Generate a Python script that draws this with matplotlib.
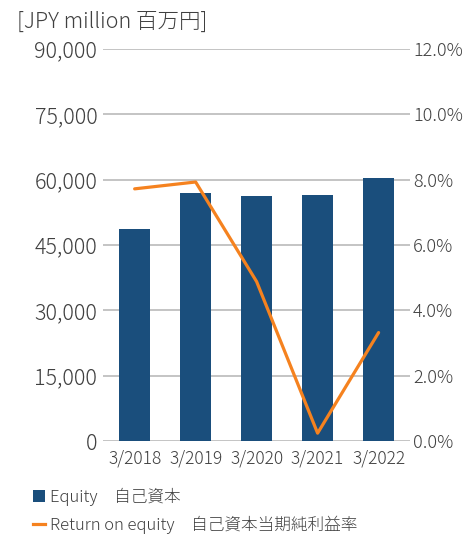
import matplotlib.pyplot as plt
from matplotlib.patches import Patch
from matplotlib.lines import Line2D

plt.rcParams['font.family'] = ['Noto Sans CJK JP', 'DejaVu Sans']
plt.rcParams['font.weight'] = 'light'

years = ['3/2018', '3/2019', '3/2020', '3/2021', '3/2022']
equity = [48700, 56900, 56200, 56600, 60500]
roe = [7.72, 7.93, 4.88, 0.24, 3.32]

left_ticks = [0, 15000, 30000, 45000, 60000, 75000, 90000]
right_ticks = [0, 2, 4, 6, 8, 10, 12]

bar_color = '#1a4e7c'
line_color = '#f5821f'
text_color = '#404040'
grid_color = '#b4b4b4'

fig = plt.figure(figsize=(4.7, 5.36), dpi=100)
ax = fig.add_axes([0.219, 0.1772, 0.654, 0.7313])
x = list(range(len(years)))

ax.bar(x, equity, width=0.51, color=bar_color, zorder=3)
ax.set_xlim(-0.52, 4.52)
ax.set_ylim(0, 90000)
ax.set_yticks(left_ticks)
ax.set_yticklabels([f'{v:,}' for v in left_ticks])
ax.set_xticks(x)
ax.set_xticklabels(years)
ax.yaxis.grid(True, color=grid_color, linewidth=1.1, zorder=0)
ax.set_axisbelow(True)
for s in ax.spines.values():
    s.set_visible(False)
ax.tick_params(axis='y', length=0, pad=4, labelsize=15.5, labelcolor=text_color)
ax.tick_params(axis='x', length=0, pad=6, labelsize=12.5, labelcolor=text_color)

ax2 = ax.twinx()
ax2.plot(x, roe, color=line_color, linewidth=2.3, solid_capstyle='round', zorder=4)
ax2.set_ylim(0, 12)
ax2.set_yticks(right_ticks)
ax2.set_yticklabels([f'{v:.1f}%' for v in right_ticks])
for s in ax2.spines.values():
    s.set_visible(False)
ax2.tick_params(axis='y', length=0, pad=2, labelsize=13, labelcolor=text_color)

fig.text(0.036, 0.96, '[JPY million 百万円]', fontsize=15.5, color=text_color,
         va='center', ha='left')

handles = [Patch(facecolor=bar_color, edgecolor='none'),
           Line2D([0], [0], color=line_color, linewidth=2.3)]
labels = ['Equity\u3000自己資本', 'Return on equity\u3000自己資本当期純利益率']
leg = fig.legend(handles, labels, loc='lower left', bbox_to_anchor=(0.055, -0.008),
                 frameon=False, fontsize=12, handlelength=0.75, handleheight=0.75,
                 handletextpad=0.3, labelspacing=0.55, borderaxespad=0)
for t in leg.get_texts():
    t.set_color(text_color)

fig.savefig('out.png', dpi=100)
